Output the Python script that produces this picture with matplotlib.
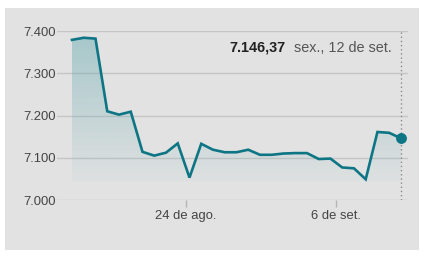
import numpy as np
import matplotlib
matplotlib.use("Agg")
import matplotlib.pyplot as plt
from matplotlib.patches import Rectangle, Polygon

plt.rcParams['font.family'] = ['Liberation Sans', 'DejaVu Sans']

# ---- data ----
values = [7.379, 7.384, 7.382, 7.210, 7.202, 7.209, 7.114, 7.105, 7.112,
          7.134, 7.053, 7.133, 7.119, 7.113, 7.113, 7.119, 7.107, 7.107,
          7.110, 7.111, 7.111, 7.097, 7.098, 7.077, 7.075, 7.049, 7.161,
          7.159, 7.146]
ytick_values = [7.0, 7.1, 7.2, 7.3, 7.4]
ytick_labels = ["7.000", "7.100", "7.200", "7.300", "7.400"]
xtick_labels = ["24 de ago.", "6 de set."]
last_value_label = "7.146,37"
last_date_label = "sex., 12 de set."

# ---- layout ----
W, H = 430, 260
fig = plt.figure(figsize=(W / 100, H / 100), dpi=100)
fig.patch.set_facecolor("white")
bg = Rectangle((5 / W, 10 / H), 414 / W, 242 / H,
               transform=fig.transFigure, facecolor="#e2e2e2",
               edgecolor="none", zorder=-10)
fig.add_artist(bg)

ax = fig.add_axes([57 / W, (H - 200) / H, 351 / W, 169 / H])
ax.set_zorder(1)
ax.set_facecolor("none")
x = np.arange(len(values))
y = np.array(values)
ax.set_xlim(-1.277, len(values) - 1 + 0.6)
ax.set_ylim(7.0, 7.4)

line_color = "#0e7585"

# gridlines
for v in ytick_values:
    ax.axhline(v, color="#c6c6c6", lw=1.0, zorder=1)

# gradient fill
base = y.min() - 0.004
verts = [(x[0], base)] + list(zip(x, y)) + [(x[-1], base)]
poly = Polygon(verts, closed=True, facecolor="none", edgecolor="none")
ax.add_patch(poly)
n = 256
grad = np.zeros((n, 1, 4))
c = np.array([80, 160, 168]) / 255
grad[:, 0, :3] = c
grad[:, 0, 3] = np.linspace(0.40, 0.03, n)
im = ax.imshow(grad, aspect="auto", extent=[x[0], x[-1], base, y.max()],
               origin="upper", zorder=2, interpolation="bilinear")
im.set_clip_path(poly)
ax.set_xlim(-1.277, len(values) - 1 + 0.6)
ax.set_ylim(7.0, 7.4)

# dotted vertical at last point
ax.plot([x[-1], x[-1]], [7.0, 7.4], color="#8a8a8a", lw=1.0,
        linestyle=(0, (1, 2)), zorder=3)

ax.plot(x, y, color=line_color, lw=1.9, zorder=4, solid_joinstyle="miter")
ax.plot([x[-1]], [y[-1]], "o", color=line_color, markersize=6.8, zorder=5)

for s in ax.spines.values():
    s.set_visible(False)

ax.set_yticks(ytick_values)
ax.set_yticklabels(ytick_labels)
ax.tick_params(axis="y", length=0, pad=1, labelsize=9.4, labelcolor="#444444")

tick_pos = [9.70, 22.47]
ax.set_xticks(tick_pos)
ax.set_xticklabels(xtick_labels)
ax.tick_params(axis="x", length=5, width=1, color="#b5b5b5", pad=2,
               labelsize=9.4, labelcolor="#444444")

# annotation
fig.text(392 / W, (H - 48) / H, last_date_label, ha="right", va="center",
         fontsize=10.4, color="#555555")
fig.text(286 / W, (H - 48) / H, last_value_label, ha="right", va="center",
         fontsize=10.4, color="#222222", fontweight="bold")

fig.savefig("out.png", dpi=100, facecolor="white")
